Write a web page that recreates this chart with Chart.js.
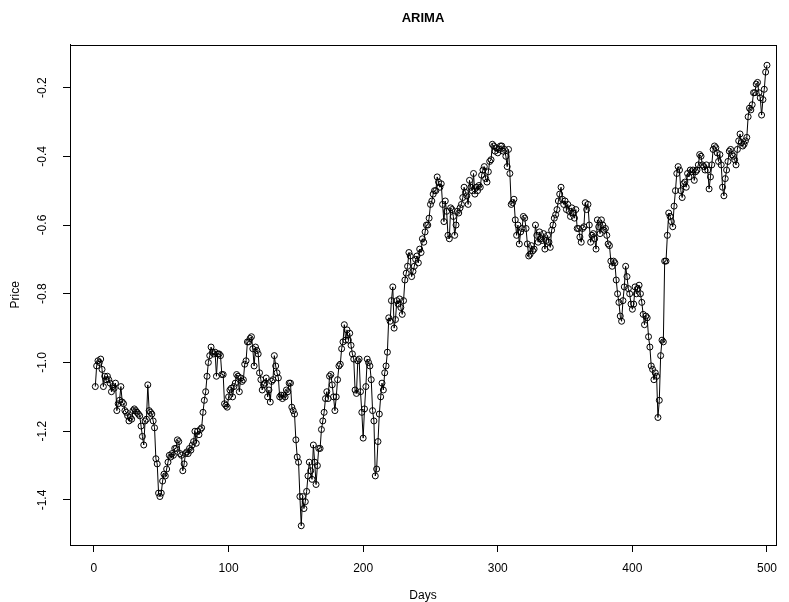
<!DOCTYPE html>
<html>
<head>
<meta charset="utf-8">
<script src="https://cdn.jsdelivr.net/npm/chart.js@4.4.0/dist/chart.umd.min.js"></script>
<style>
    body { margin: 0; background: #fff; }
</style>
</head>
<body>
<canvas id="arima-chart" width="789" height="602"></canvas>
<script>
// price, 100 days per block
var price1 = [
    -1.07, -1.01, -0.995, -1.0, -0.99, -1.02, -1.07, -1.04, -1.05, -1.04,
    -1.05, -1.06, -1.085, -1.07, -1.075, -1.06, -1.14, -1.12, -1.11, -1.07,
    -1.115, -1.12, -1.14, -1.145, -1.155, -1.17, -1.16, -1.165, -1.14, -1.135,
    -1.14, -1.145, -1.15, -1.155, -1.185, -1.215, -1.24, -1.17, -1.165, -1.065,
    -1.14, -1.145, -1.15, -1.17, -1.19, -1.28, -1.295, -1.38, -1.39, -1.38,
    -1.345, -1.325, -1.33, -1.31, -1.29, -1.27, -1.275, -1.265, -1.27, -1.25,
    -1.25, -1.225, -1.23, -1.265, -1.27, -1.315, -1.295, -1.265, -1.26, -1.265,
    -1.25, -1.255, -1.24, -1.23, -1.20, -1.235, -1.20, -1.21, -1.195, -1.19,
    -1.145, -1.11, -1.085, -1.04, -1.0, -0.98, -0.955, -0.97, -0.975, -0.97,
    -1.04, -0.975, -0.975, -0.98, -1.035, -1.035, -1.12, -1.125, -1.13, -1.10
]
var price2 = [
    -1.08, -1.075, -1.10, -1.07, -1.06, -1.035, -1.04, -1.085, -1.045, -1.055,
    -1.05, -1.005, -0.995, -0.94, -0.94, -0.93, -0.925, -0.96, -1.01, -0.955,
    -0.965, -0.975, -1.03, -1.05, -1.08, -1.065, -1.06, -1.045, -1.10, -1.08,
    -1.115, -1.055, -1.05, -0.98, -1.01, -1.03, -1.045, -1.10, -1.095, -1.105,
    -1.095, -1.10, -1.08, -1.085, -1.06, -1.06, -1.13, -1.14, -1.15, -1.225,
    -1.275, -1.29, -1.39, -1.475, -1.39, -1.425, -1.405, -1.375, -1.33, -1.29,
    -1.315, -1.34, -1.24, -1.29, -1.355, -1.30, -1.25, -1.25, -1.195, -1.17,
    -1.145, -1.105, -1.085, -1.105, -1.04, -1.035, -1.065, -1.10, -1.14, -1.10,
    -1.05, -1.01, -1.005, -0.96, -0.94, -0.89, -0.935, -0.905, -0.935, -0.915,
    -0.95, -0.975, -0.99, -1.08, -1.09, -0.995, -0.99, -1.085, -1.145, -1.22
]
var price3 = [
    -1.135, -1.07, -0.99, -1.0, -1.01, -1.05, -1.14, -1.17, -1.33, -1.31,
    -1.23, -1.15, -1.10, -1.06, -1.08, -1.03, -1.01, -0.97, -0.87, -0.88,
    -0.82, -0.78, -0.90, -0.875, -0.82, -0.83, -0.815, -0.84, -0.86, -0.82,
    -0.76, -0.74, -0.72, -0.68, -0.69, -0.75, -0.735, -0.72, -0.70, -0.69,
    -0.71, -0.67, -0.68, -0.64, -0.65, -0.62, -0.60, -0.60, -0.58, -0.54,
    -0.53, -0.51, -0.50, -0.50, -0.46, -0.475, -0.49, -0.48, -0.54, -0.59,
    -0.53, -0.56, -0.63, -0.64, -0.55, -0.555, -0.575, -0.63, -0.60, -0.56,
    -0.565, -0.55, -0.54, -0.52, -0.49, -0.505, -0.515, -0.54, -0.47, -0.49,
    -0.50, -0.45, -0.51, -0.49, -0.50, -0.485, -0.49, -0.455, -0.44, -0.43,
    -0.465, -0.475, -0.445, -0.415, -0.41, -0.365, -0.37, -0.385, -0.375, -0.39
]
var price4 = [
    -0.38, -0.37, -0.37, -0.385, -0.38, -0.40, -0.43, -0.38, -0.45, -0.54,
    -0.535, -0.525, -0.585, -0.63, -0.60, -0.655, -0.62, -0.61, -0.575, -0.58,
    -0.61, -0.655, -0.69, -0.685, -0.66, -0.675, -0.67, -0.60, -0.63, -0.65,
    -0.62, -0.64, -0.645, -0.625, -0.67, -0.645, -0.63, -0.65, -0.665, -0.615,
    -0.60, -0.58, -0.57, -0.555, -0.53, -0.51, -0.49, -0.525, -0.54, -0.53,
    -0.555, -0.54, -0.56, -0.575, -0.55, -0.565, -0.58, -0.555, -0.61, -0.61,
    -0.635, -0.65, -0.61, -0.605, -0.535, -0.555, -0.54, -0.60, -0.65, -0.63,
    -0.625, -0.64, -0.67, -0.585, -0.605, -0.625, -0.585, -0.60, -0.615, -0.61,
    -0.63, -0.655, -0.66, -0.705, -0.72, -0.705, -0.71, -0.76, -0.80, -0.825,
    -0.865, -0.88, -0.82, -0.78, -0.72, -0.75, -0.785, -0.80, -0.83, -0.845
]
var price5 = [
    -0.83, -0.78, -0.80, -0.785, -0.775, -0.80, -0.825, -0.86, -0.89, -0.865,
    -0.87, -0.925, -0.955, -1.01, -1.02, -1.05, -1.03, -1.04, -1.16, -1.11,
    -0.98, -0.935, -0.94, -0.705, -0.705, -0.63, -0.565, -0.575, -0.59, -0.605,
    -0.545, -0.50, -0.45, -0.43, -0.44, -0.50, -0.52, -0.48, -0.475, -0.49,
    -0.45, -0.46, -0.44, -0.445, -0.44, -0.47, -0.445, -0.44, -0.425, -0.395,
    -0.40, -0.425, -0.43, -0.44, -0.425, -0.44, -0.495, -0.46, -0.425, -0.38,
    -0.37, -0.375, -0.39, -0.415, -0.395, -0.425, -0.49, -0.515, -0.465, -0.44,
    -0.415, -0.385, -0.38, -0.395, -0.40, -0.41, -0.425, -0.38, -0.355, -0.335,
    -0.36, -0.37, -0.365, -0.355, -0.345, -0.285, -0.26, -0.265, -0.25, -0.215,
    -0.215, -0.19, -0.185, -0.215, -0.23, -0.28, -0.235, -0.205, -0.155, -0.135
]
var price = price1.concat(price2, price3, price4, price5)

// day index 1..n, like plot(x) in R
var days = price.map((p, i) => i + 1)

var xTicks = [0, 100, 200, 300, 400, 500]
var yTicks = [-1.4, -1.2, -1.0, -0.8, -0.6, -0.4, -0.2]

var fontFamily = "'Liberation Sans', Arial, Helvetica, sans-serif"

// white page + the box round the plot region
var boxPlugin = {
    id: 'box',
    beforeDraw: function (chart) {
        var ctx = chart.ctx
        ctx.save()
        ctx.fillStyle = '#fff'
        ctx.fillRect(0, 0, chart.width, chart.height)
        ctx.restore()
    },
    afterDraw: function (chart) {
        var a = chart.chartArea
        var ctx = chart.ctx
        ctx.save()
        ctx.strokeStyle = '#000'
        ctx.lineWidth = 1
        ctx.strokeRect(Math.round(a.left) + 0.5, Math.round(a.top) + 0.5,
            Math.round(a.right - a.left), Math.round(a.bottom - a.top))
        ctx.restore()
    }
}

var ctx = document.getElementById('arima-chart').getContext('2d')
new Chart(ctx, {
    type: 'line',
    data: {
        datasets: [{
            label: 'Price',
            data: days.map((d, i) => ({ x: d, y: price[i] })),
            borderColor: '#000',
            borderWidth: 1,
            pointRadius: 3,
            pointBorderWidth: 1,
            pointBorderColor: '#000',
            pointBackgroundColor: 'rgba(0,0,0,0)',
            tension: 0,
            fill: false
        }]
    },
    plugins: [boxPlugin],
    options: {
        responsive: false,
        animation: false,
        devicePixelRatio: 1,
        layout: {
            padding: { left: 0, right: 13, top: 0, bottom: 0 }
        },
        plugins: {
            legend: { display: false },
            tooltip: { enabled: false },
            title: {
                display: true,
                text: 'ARIMA',
                fullSize: false,
                color: '#000',
                font: { family: fontFamily, size: 13, weight: 'bold' },
                padding: { top: 11, bottom: 18 }
            }
        },
        scales: {
            x: {
                type: 'linear',
                min: -17.8,
                max: 506.7,
                afterBuildTicks: function (axis) {
                    axis.ticks = xTicks.map(v => ({ value: v }))
                },
                afterFit: function (axis) {
                    axis.height = 57
                },
                grid: { drawOnChartArea: false, drawTicks: true, tickLength: 7, color: '#000' },
                border: { display: true, color: '#000' },
                ticks: {
                    color: '#000',
                    font: { family: fontFamily, size: 12 },
                    padding: 9,
                    maxRotation: 0,
                    callback: v => String(v)
                },
                title: {
                    display: true,
                    text: 'Days',
                    color: '#000',
                    font: { family: fontFamily, size: 12 },
                    padding: { top: 0, bottom: -1 }
                }
            },
            y: {
                type: 'linear',
                min: -1.531,
                max: -0.075,
                afterBuildTicks: function (axis) {
                    axis.ticks = yTicks.map(v => ({ value: v }))
                },
                afterFit: function (axis) {
                    axis.width = 70
                },
                grid: { drawOnChartArea: false, drawTicks: true, tickLength: 7, color: '#000' },
                border: { display: true, color: '#000' },
                ticks: {
                    color: '#000',
                    font: { family: fontFamily, size: 12 },
                    padding: 10,
                    minRotation: 90,
                    maxRotation: 90,
                    crossAlign: 'center',
                    callback: v => v.toFixed(1)
                },
                title: {
                    display: true,
                    text: 'Price',
                    color: '#000',
                    font: { family: fontFamily, size: 12 },
                    padding: { top: 8, bottom: 0 }
                }
            }
        }
    }
});
</script>
</body>
</html>
